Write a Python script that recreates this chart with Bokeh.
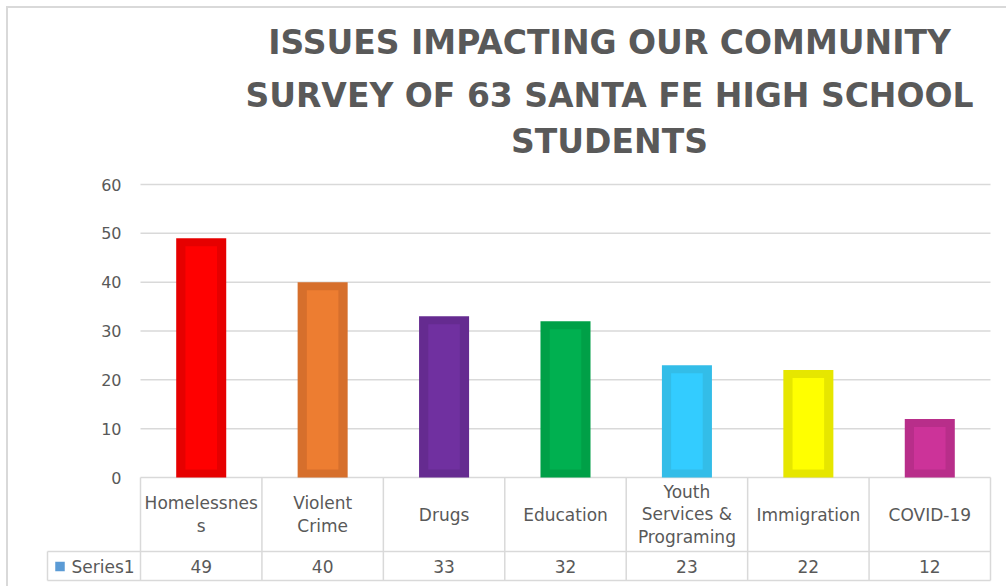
from bokeh.plotting import figure
from bokeh.layouts import column
from bokeh.models import Range1d, FixedTicker, Label, ColumnDataSource, LinearAxis
from bokeh.core.properties import value
from bokeh.embed import file_html
from bokeh.resources import INLINE
import numpy as np

# ---- data ----
categories = ["Homelessness", "Violent Crime", "Drugs", "Education",
              "Youth Services & Programing", "Immigration", "COVID-19"]
table_labels = ["Homelessnes\ns", "Violent\nCrime", "Drugs", "Education",
                "Youth\nServices &\nPrograming", "Immigration", "COVID-19"]
values = [49, 40, 33, 32, 23, 22, 12]
series_name = "Series1"
y_ticks = [0, 10, 20, 30, 40, 50, 60]
title_lines = ["ISSUES IMPACTING OUR COMMUNITY",
               "SURVEY OF 63 SANTA FE HIGH SCHOOL",
               "STUDENTS"]
fill_colors = ["#FF0000", "#ED7D31", "#7030A0", "#00B050", "#33CCFF", "#FFFF00", "#CC3399"]
edge_colors = ["#E60000", "#D66F2C", "#652B90", "#00A047", "#33BDE8", "#E6E600", "#B82E8A"]

TEXT = "#595959"
GRID = "#D9D9D9"
FONT = "DejaVu Sans"

n = len(categories)
xs = np.arange(n) + 0.5

# layout helpers (page pixels -> data units)
ppu = (477 - 184) / 60.0      # vertical px per value unit
cw = (990 - 140) / n          # horizontal px per category
def ux(px):
    return (px - 140) / cw
def uy(py):
    return (477 - py) / ppu

inset = 8 / ppu               # bar border thickness in value units

src = ColumnDataSource(dict(
    x=xs, cat=categories, label=table_labels, v=values,
    v_in=np.array(values) - inset,
    vtxt=[str(v) for v in values],
    fill=fill_colors, edge=edge_colors,
))

p = figure(width=998, height=578, output_backend="svg", toolbar_location=None,
           x_range=Range1d(ux(8), ux(1006)),
           y_range=Range1d(uy(586), uy(8)),
           x_axis_location=None, y_axis_location=None,
           min_border=0)
p.outline_line_color = None
p.background_fill_color = "white"
p.border_fill_color = "white"
p.grid.visible = False

# y axis positioned at x = 0 (left edge of the category area)
yax = LinearAxis(fixed_location=0, ticker=FixedTicker(ticks=y_ticks))
yax.axis_line_color = None
yax.major_tick_line_color = None
yax.minor_tick_line_color = None
yax.major_label_standoff = 13
yax.major_label_text_font = FONT
yax.major_label_text_font_size = "16px"
yax.major_label_text_color = TEXT
p.add_layout(yax, "left")

# horizontal gridlines at the tick values
p.segment(x0=[0] * len(y_ticks), y0=y_ticks, x1=[n] * len(y_ticks), y1=y_ticks,
          line_color=GRID, line_width=1.5)

# bars: darker outer block and lighter inner fill
p.vbar(x="x", top="v", bottom=0, width=0.412, fill_color="edge",
       line_color=None, source=src)
p.vbar(x="x", top="v_in", bottom=inset, width=0.26, fill_color="fill",
       line_color=None, source=src)

# title
for line, py in zip(title_lines, [42, 95, 141]):
    p.add_layout(Label(x=ux(609), y=uy(py), text=line,
                       text_align="center", text_baseline="middle",
                       text_font=FONT, text_font_style="bold",
                       text_font_size="33px", text_color=TEXT))

# ---- data table ----
left_cell = ux(47)
row1, row2 = uy(551), uy(580)
vx = list(range(n + 1))
p.segment(x0=vx, y0=[0] * len(vx), x1=vx, y1=[row2] * len(vx),
          line_color=GRID, line_width=1.5)
p.segment(x0=[left_cell], y0=[row1], x1=[left_cell], y1=[row2],
          line_color=GRID, line_width=1.5)
p.segment(x0=[left_cell, left_cell], y0=[row1, row2], x1=[n, n], y1=[row1, row2],
          line_color=GRID, line_width=1.5)

p.text(x="x", y=uy(514), text="label", source=src, text_align="center",
       text_baseline="middle", text_font=value(FONT), text_font_size="17px",
       text_color=TEXT, text_line_height=1.12)
p.text(x="x", y=uy(566), text="vtxt", source=src, text_align="center",
       text_baseline="middle", text_font=value(FONT), text_font_size="17px",
       text_color=TEXT)
p.scatter(x=[ux(59.5)], y=[uy(566)], marker="square", size=9.5,
          fill_color="#5B9BD5", line_color=None)
p.text(x=[ux(71)], y=[uy(566)], text=[series_name], text_align="left",
       text_baseline="middle", text_font=value(FONT), text_font_size="17px",
       text_color=TEXT)

layout = column(p, spacing=0, margin=(6, 0, 0, 6),
                styles={"border-top": "2px solid #D9D9D9",
                        "border-left": "2px solid #D9D9D9"})

open("out.html", "w").write(file_html(layout, INLINE))
